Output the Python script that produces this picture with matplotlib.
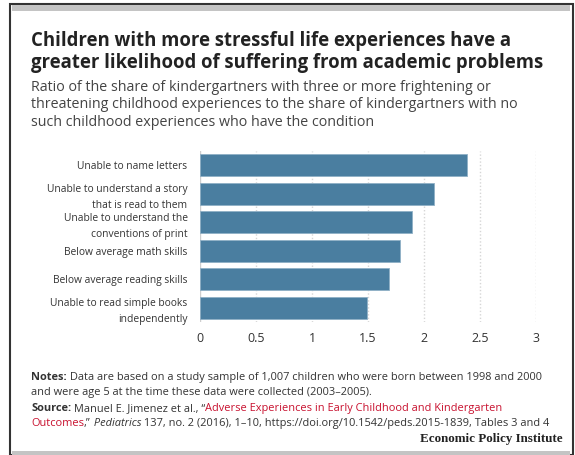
import matplotlib
matplotlib.use("Agg")
import matplotlib.pyplot as plt
from matplotlib.patches import Rectangle

# data
categories = [
    "Unable to name letters",
    "Unable to understand a story\nthat is read to them",
    "Unable to understand the\nconventions of print",
    "Below average math skills",
    "Below average reading skills",
    "Unable to read simple books\nindependently",
]
ratios = [2.38, 2.09, 1.89, 1.79, 1.69, 1.49]
xticks = [0, 0.5, 1, 1.5, 2, 2.5, 3]
xticklabels = ["0", "0.5", "1", "1.5", "2", "2.5", "3"]

W, H = 575, 455
BAR = "#4a7ea0"
SANS = "Open Sans"

fig = plt.figure(figsize=(W / 100, H / 100), dpi=100)


def fx(px):
    return px / W


def fy(py):
    return 1 - py / H


# frame around the card
fig.patches.append(Rectangle((fx(10), 0), fx(563), fy(4), transform=fig.transFigure,
                             fill=False, edgecolor="#333333", linewidth=1.5))
fig.patches.append(Rectangle((fx(12), fy(11)), fx(558), 6 / H, transform=fig.transFigure,
                             facecolor="#c4c4c4", edgecolor="none"))
fig.patches.append(Rectangle((fx(12), 0), fx(558), 4 / H, transform=fig.transFigure,
                             facecolor="#c4c4c4", edgecolor="none"))

# title + subtitle
fig.text(fx(31), fy(46), "Children with more stressful life experiences have a",
         family=SANS, weight="bold", fontsize=13.35, color="#222222", va="baseline")
fig.text(fx(31), fy(68), "greater likelihood of suffering from academic problems",
         family=SANS, weight="bold", fontsize=13.35, color="#222222", va="baseline")
subtitle = ["Ratio of the share of kindergartners with three or more frightening or",
            "threatening childhood experiences to the share of kindergartners with no",
            "such childhood experiences who have the condition"]
for i, line in enumerate(subtitle):
    fig.text(fx(31), fy(91 + 17.5 * i), line, family=SANS, fontsize=10.3,
             color="#444444", va="baseline")

# chart
ax = fig.add_axes([fx(200), fy(322), fx(336), 171 / H])
ypos = list(range(len(categories)))
ax.barh(ypos, ratios, height=0.77, color=BAR, edgecolor="#8fb0c6", linewidth=0.6, zorder=3)
ax.set_ylim(len(categories) - 0.5, -0.5)
ax.set_xlim(0, 3)
ax.set_xticks(xticks)
ax.set_xticklabels(xticklabels)
ax.set_yticks(ypos)
ax.set_yticklabels(categories, fontsize=7.4, family=SANS, color="#333333",
                   linespacing=1.6)
for t in ax.get_xticklabels():
    t.set_family(SANS)
    t.set_fontsize(9)
    t.set_color("#333333")
ax.tick_params(axis="both", length=0)
ax.tick_params(axis="y", pad=9)
ax.tick_params(axis="x", pad=7)
for s in ax.spines.values():
    s.set_visible(False)
ax.axvline(0, color="#cfcfcf", linewidth=1, zorder=2)
for v in xticks[1:]:
    ax.axvline(v, color="#d6d6d6", linewidth=1, linestyle=(0, (1, 1.5)), zorder=1)

# notes / source with mixed styles on one line
renderer = fig.canvas.get_renderer()


def rich_line(x, y, parts, size=7.9):
    for text, props in parts:
        t = fig.text(fx(x), fy(y), text, fontsize=size, va="baseline",
                     family=SANS, **props)
        x += t.get_window_extent(renderer).width


grey = {"color": "#333333"}
red = {"color": "#c8102e"}
rich_line(31, 380, [("Notes:", {"weight": "bold", "color": "#333333"}),
                    (" Data are based on a study sample of 1,007 children who were born between 1998 and 2000", grey)])
rich_line(31, 395, [("and were age 5 at the time these data were collected (2003\u20132005).", grey)])
rich_line(31, 411, [("Source:", {"weight": "bold", "color": "#333333"}),
                    (" Manuel E. Jimenez et al., \u201c", grey),
                    ("Adverse Experiences in Early Childhood and Kindergarten", red)])
rich_line(31, 426, [("Outcomes", red),
                    (",\u201d", grey),
                    (" Pediatrics", {"style": "italic", "color": "#333333"}),
                    (" 137, no. 2 (2016), 1\u201310, https://doi.org/10.1542/peds.2015-1839, Tables 3 and 4", grey)])

fig.text(fx(563), fy(442), "Economic Policy Institute", family="Liberation Serif",
         weight="bold", fontsize=9.4, color="#222222", ha="right", va="baseline")

fig.savefig("out.png", dpi=100)
